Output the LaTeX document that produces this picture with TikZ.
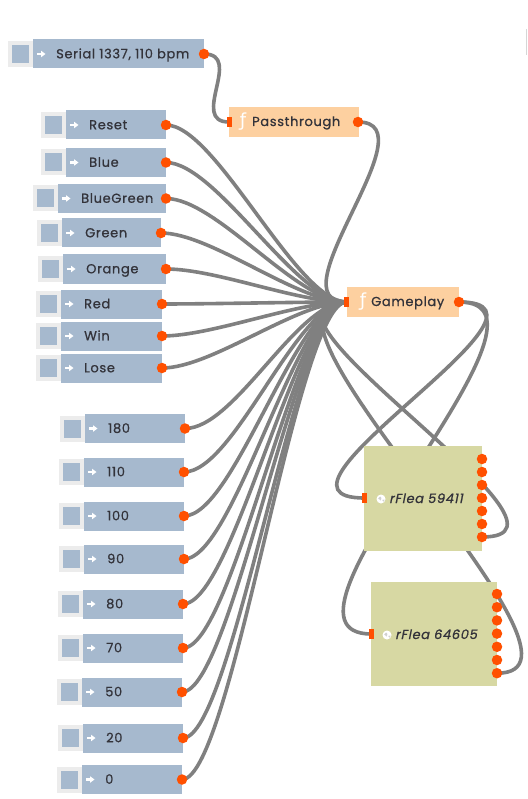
\documentclass[tikz,border=0pt]{standalone}
\usepackage{fontspec}
\setmainfont[LetterSpace=5,FakeBold=0.8]{Poppins}
\newfontfamily\fnfont{DejaVu Sans}
\newfontfamily\fleafont[FakeSlant=0.2,LetterSpace=5,FakeBold=0.8]{Poppins}
\definecolor{nodeblue}{HTML}{A6B9CE}
\definecolor{handlegray}{HTML}{ECECEC}
\definecolor{fnorange}{HTML}{FDD0A0}
\definecolor{fleaolive}{HTML}{D7D8A3}
\definecolor{portred}{HTML}{FF5000}
\definecolor{wiregray}{HTML}{808080}
\definecolor{textgray}{HTML}{33333A}
\pgfdeclarelayer{back}
\pgfdeclarelayer{wires}
\pgfsetlayers{back,wires,main}
\tikzset{
  msgbox/.style={fill=nodeblue, minimum height=29pt, inner sep=0pt},
  handle/.style={fill=nodeblue, draw=handlegray, line width=4pt, minimum width=21pt, minimum height=22pt, inner sep=0pt},
  msgtext/.style={text=textgray, font=\fontsize{13}{15}\selectfont, anchor=base west, inner sep=0pt},
  outdot/.style={circle, fill=portred, minimum size=10.5pt, inner sep=0pt},
  inport/.style={fill=portred, minimum width=5pt, minimum height=10.5pt, inner sep=0pt},
  fnbox/.style={fill=fnorange, minimum height=30pt, inner sep=0pt},
  fnsign/.style={text=white, font=\fnfont\fontsize{18}{18}\selectfont, inner sep=0pt},
  fleabox/.style={fill=fleaolive, inner sep=0pt},
  fleatext/.style={msgtext, font=\fleafont\fontsize{13}{15}\selectfont},
  globe/.style={circle, fill=white, minimum size=9pt, inner sep=0pt,
    path picture={\fill[black!18] (path picture bounding box.center) ++(-2.8,-0.5) -- ++(2,-2) -- ++(1.2,1.5) -- ++(-0.6,2.5) -- cycle;
                  \fill[black!18] (path picture bounding box.center) ++(1,1) -- ++(2.5,-0.5) -- ++(-0.5,2.5) -- cycle;}},
  wire/.style={draw=wiregray, line width=3.6pt},
}
% message box: name, left x, centre y, right x, text
\newcommand{\msgnode}[5]{%
  \node[handle] (#1-h) at (#2-12.5,#3) {};
  \node[msgbox, minimum width=#4-#2] (#1) at ({(#2+#4)/2},#3) {};
  \fill[white] (#2+3.5,#3-1.3) rectangle +(4.5,2.6);
  \fill[white] (#2+8,#3-3.3) -- +(4.5,3.3) -- +(0,6.6) -- cycle;
  \node[msgtext] (#1-t) at (#2+23,#3+4.3) {#5};
  \node[outdot] (#1-o) at (#4,#3) {};
}
\begin{document}
\begin{tikzpicture}[x=1pt,y=-1pt]
  \useasboundingbox (0,0) rectangle (527,799);
  \begin{pgfonlayer}{back}
    \fill[white] (0,0) rectangle (527,799);
    \draw[handlegray!80!gray, line width=0.6pt] (526.5,29) -- (526.5,55);
  \end{pgfonlayer}

  % inputs
  \msgnode{serial}{33}{54}{204}{Serial 1337, 110 bpm}
  \msgnode{reset}{66}{125}{166}{Reset}
  \msgnode{blue}{66}{162.5}{166}{Blue}
  \msgnode{bluegreen}{58}{198.5}{166}{BlueGreen}
  \msgnode{green}{62}{233}{161}{Green}
  \msgnode{orange}{63}{269}{166}{Orange}
  \msgnode{red}{61}{304}{162}{Red}
  \msgnode{win}{61}{336}{162}{Win}
  \msgnode{lose}{61}{368}{162}{Lose}
  \msgnode{n180}{85}{428.5}{185}{180}
  \msgnode{n110}{84}{472}{184}{110}
  \msgnode{n100}{84}{516}{184}{100}
  \msgnode{n90}{84}{559}{184}{90}
  \msgnode{n80}{83}{604}{183}{80}
  \msgnode{n70}{83}{648}{183}{70}
  \msgnode{n50}{82}{692}{182}{50}
  \msgnode{n20}{83}{738}{183}{20}
  \msgnode{n0}{82}{779.5}{182}{0}

  % functions
  \node[fnbox, minimum width=130pt] (pass) at (294,122) {};
  \node[fnsign] at (243,122) {ƒ};
  \node[msgtext] (pass-t) at (252,126) {Passthrough};
  \node[inport] (pass-i) at (229,122) {};
  \node[outdot] (pass-o) at (358,122) {};

  \node[fnbox, minimum width=112pt] (game) at (403,301.5) {};
  \node[fnsign] at (363,301.5) {ƒ};
  \node[msgtext] (game-t) at (371,306) {Gameplay};
  \node[inport] (game-i) at (346.5,302) {};
  \node[outdot] (game-o) at (459,302) {};

  % devices
  \node[fleabox, minimum width=118pt, minimum height=105pt] (fleaA) at (423,498.5) {};
  \node[inport] (fleaA-i) at (364.5,498) {};
  \node[globe] (fleaA-g) at (381,499) {};
  \node[fleatext] (fleaA-t) at (389,503) {rFlea 59411};
  \foreach \i in {0,...,6}
    \node[outdot] (fleaA-\i) at (482,459+13*\i) {};

  \node[fleabox, minimum width=126pt, minimum height=104pt] (fleaB) at (434,634) {};
  \node[inport] (fleaB-i) at (371.5,634) {};
  \node[globe] (fleaB-g) at (387,635) {};
  \node[fleatext] (fleaB-t) at (395,639) {rFlea 64605};
  \foreach \i in {0,...,6}
    \node[outdot] (fleaB-\i) at (497,594+13.2*\i) {};

  % wires
  \begin{pgfonlayer}{wires}
    \draw[wire] (serial-o.center) .. controls +(40,0) and +(-40,0) .. (pass-i.center);
    \draw[wire] (pass-o.center) .. controls +(75,0) and +(-75,0) .. (game-i.center);
    \foreach \src in {reset,blue,bluegreen,green,orange,red,win,lose,n180,n110,n100,n90,n80,n70,n50,n20,n0}
      \draw[wire] (\src-o.center) .. controls +(50,0) and +(-50,0) .. (game-i.center);
    \draw[wire] (game-o.center) .. controls +(125,0) and +(-125,0) .. (fleaA-i.center);
    \draw[wire] (game-o.center) .. controls +(125,0) and +(-125,0) .. (fleaB-i.center);
    \draw[wire] (fleaA-6.center) .. controls +(125,0) and +(-125,0) .. (game-i.center);
    \draw[wire] (fleaB-6.center) .. controls +(125,0) and +(-125,0) .. (game-i.center);
  \end{pgfonlayer}
\end{tikzpicture}
\end{document}
